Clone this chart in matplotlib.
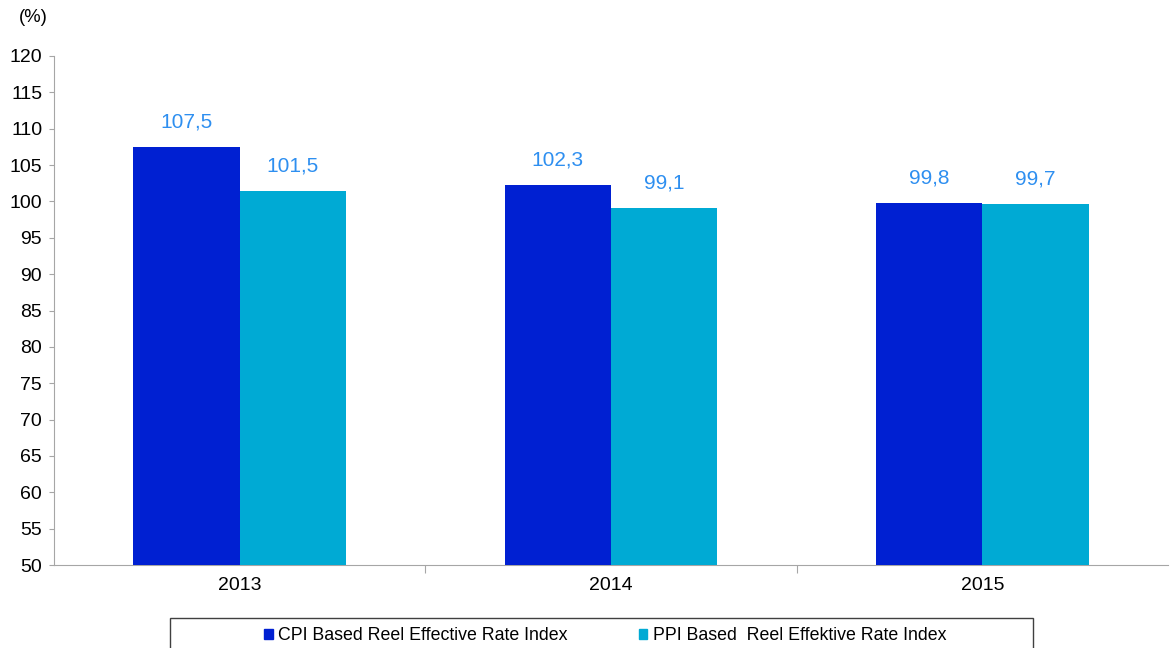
import numpy as np
import matplotlib.pyplot as plt
from matplotlib.patches import Patch, Rectangle

plt.rcParams['font.family'] = ['Liberation Sans', 'DejaVu Sans']

years = ['2013', '2014', '2015']
cpi = [107.5, 102.3, 99.8]
ppi = [101.5, 99.1, 99.7]
cpi_name = 'CPI Based Reel Effective Rate Index'
ppi_name = 'PPI Based  Reel Effektive Rate Index'

CPI_COLOR = '#0020D2'
PPI_COLOR = '#00AAD4'
LABEL_COLOR = '#2E8FF0'
GRAY = '#A6A6A6'

fig = plt.figure(figsize=(11.7, 6.48), dpi=100)
ax = fig.add_axes([54 / 1170, 1 - 565 / 648, (1168 - 54) / 1170, (565 - 56) / 648])

x = np.arange(len(years))
w = 0.286
b1 = ax.bar(x - w / 2, cpi, w, color=CPI_COLOR, zorder=3)
b2 = ax.bar(x + w / 2, ppi, w, color=PPI_COLOR, zorder=3)

for bars, vals in ((b1, cpi), (b2, ppi)):
    for r, v in zip(bars, vals):
        ax.annotate(('%.1f' % v).replace('.', ','),
                    (r.get_x() + r.get_width() / 2, v),
                    xytext=(0, 11), textcoords='offset points',
                    ha='center', va='bottom', fontsize=15, color=LABEL_COLOR)

ax.set_ylim(50, 120)
ax.set_yticks(np.arange(50, 121, 5))
ax.set_xlim(-0.5, 2.5)
ax.set_xticks([0.5, 1.5], minor=False)
ax.set_xticklabels([])
ax.set_xticks(x, minor=True)
ax.set_xticklabels(years, minor=True)
ax.tick_params(axis='x', which='major', length=6, color=GRAY, direction='out')
ax.tick_params(axis='x', which='minor', length=0, labelsize=14, pad=9)
ax.tick_params(axis='y', length=3.5, color=GRAY, labelsize=14, pad=5)

for s in ('top', 'right'):
    ax.spines[s].set_visible(False)
for s in ('left', 'bottom'):
    ax.spines[s].set_color(GRAY)

fig.text(19 / 1170, 1 - 18 / 648, '(%)', fontsize=13.3, va='center', ha='left')

# legend frame, cut off at the bottom like the original
fig.patches.append(Rectangle((170 / 1170, -0.05), (1033 - 170) / 1170, 0.05 + 1 - 618 / 648,
                             transform=fig.transFigure, fill=False,
                             edgecolor='#404040', linewidth=1))
handles = [Patch(color=CPI_COLOR), Patch(color=PPI_COLOR)]
fig.legend(handles, [cpi_name, ppi_name], ncol=2, frameon=False,
           loc='center', bbox_to_anchor=(605 / 1170, 1 - 636 / 648),
           fontsize=12.8, handlelength=0.5, handleheight=0.5,
           handletextpad=0.3, columnspacing=4.0)

fig.savefig('out.png', dpi=100)
